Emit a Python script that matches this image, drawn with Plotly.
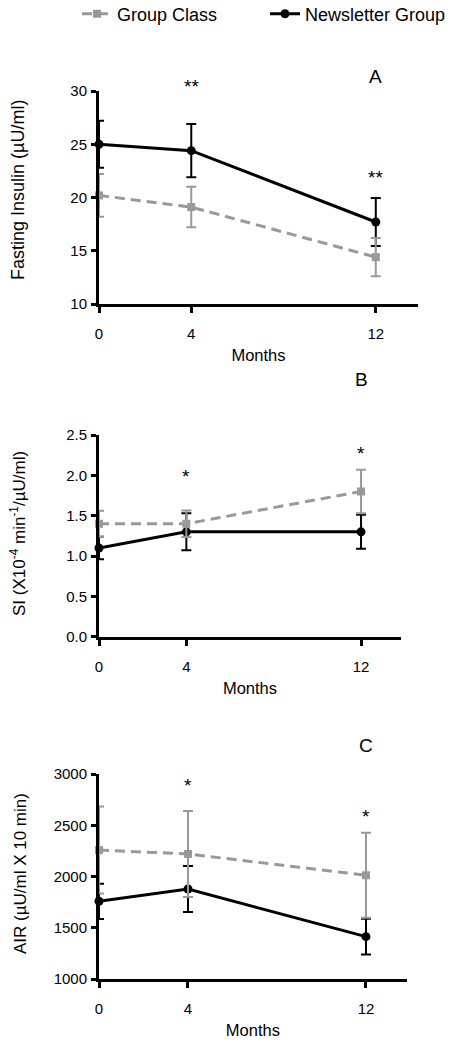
import plotly.graph_objects as go

W, H = 455, 1043
months = [0, 4, 12]

# Panel A: Fasting insulin
a_group = [20.2, 19.1, 14.4]
a_group_err = [2.0, 1.9, 1.8]
a_news = [25.0, 24.4, 17.7]
a_news_err = [2.2, 2.5, 2.25]

# Panel B: SI
b_group = [1.40, 1.40, 1.80]
b_group_err = [0.16, 0.165, 0.27]
b_news = [1.10, 1.30, 1.30]
b_news_err = [0.14, 0.23, 0.21]

# Panel C: AIR
c_group = [2258, 2220, 2012]
c_group_err = [425, 420, 415]
c_news = [1758, 1878, 1413]
c_news_err = [172, 225, 175]

# significance markers: (x, y in axis-domain fraction, text)
a_stars = [(4, 1.028, "**"), (12, 0.598, "**")]
b_stars = [(4, 0.80, "*"), (12, 0.912, "*")]
c_stars = [(4, 0.95, "*"), (12, 0.80, "*")]
panel_labels = [("A", 1.066), ("B", 1.273), ("C", 1.137)]

GRAY = "#999999"
FONT = "Arial, Liberation Sans, sans-serif"

def px_x(p):
    return p / W

def px_y(p):
    return 1 - p / H

fig = go.Figure()

panels = [
    ("x", "y", a_group, a_group_err, a_news, a_news_err, True),
    ("x2", "y2", b_group, b_group_err, b_news, b_news_err, False),
    ("x3", "y3", c_group, c_group_err, c_news, c_news_err, False),
]

for xa, ya, g, ge, n, ne, show in panels:
    fig.add_trace(go.Scatter(
        x=months, y=n, xaxis=xa, yaxis=ya, mode="lines+markers",
        name="Newsletter Group", showlegend=show, legendrank=2,
        line=dict(color="black", width=3),
        marker=dict(symbol="circle", size=9, color="black"),
        error_y=dict(type="data", array=ne, visible=True, color="black",
                     thickness=2, width=5),
        cliponaxis=False,
    ))
    fig.add_trace(go.Scatter(
        x=months, y=g, xaxis=xa, yaxis=ya, mode="lines+markers",
        name="Group Class", showlegend=show, legendrank=1,
        line=dict(color=GRAY, width=3, dash="10px,6px"),
        marker=dict(symbol="square", size=8, color=GRAY),
        error_y=dict(type="data", array=ge, visible=True, color=GRAY,
                     thickness=2, width=5),
        cliponaxis=False,
    ))

xcommon = dict(range=[0, 13.83], tickvals=months, ticktext=[str(m) for m in months],
               showline=True, linecolor="black", linewidth=3, ticks="outside",
               ticklen=6, tickwidth=3, tickcolor="black", showgrid=False,
               zeroline=False, tickfont=dict(family=FONT, size=15, color="black"),
               ticklabelstandoff=8, fixedrange=True)
ycommon = dict(showline=True, linecolor="black", linewidth=3, ticks="outside",
               ticklen=5, tickwidth=3, tickcolor="black", showgrid=False,
               zeroline=False, tickfont=dict(family=FONT, size=15, color="black"),
               ticklabelstandoff=1, fixedrange=True)
xtitle = dict(text="Months", font=dict(family=FONT, size=16.5, color="black"), standoff=9)

fig.update_layout(
    width=W, height=H, margin=dict(l=0, r=0, t=0, b=0, autoexpand=False),
    plot_bgcolor="white", paper_bgcolor="white",
    font=dict(family=FONT, color="black"),
    xaxis=dict(xcommon, domain=[px_x(99), px_x(418)], anchor="y", title=xtitle),
    yaxis=dict(ycommon, domain=[px_y(304), px_y(91)], anchor="x",
               range=[10, 30], tickvals=[10, 15, 20, 25, 30]),
    xaxis2=dict(xcommon, domain=[px_x(99), px_x(401)], anchor="y2", title=xtitle),
    yaxis2=dict(ycommon, domain=[px_y(636.7), px_y(435)], anchor="x2",
                range=[0, 2.5], tickvals=[0, 0.5, 1.0, 1.5, 2.0, 2.5],
                ticktext=["0.0", "0.5", "1.0", "1.5", "2.0", "2.5"]),
    xaxis3=dict(xcommon, domain=[px_x(99), px_x(406.7)], anchor="y3", title=xtitle),
    yaxis3=dict(ycommon, domain=[px_y(979), px_y(774)], anchor="x3",
                range=[1000, 3000], tickvals=[1000, 1500, 2000, 2500, 3000]),
    legend=dict(orientation="h", x=px_x(77), y=px_y(14), xanchor="left", yanchor="middle",
                font=dict(family=FONT, size=18, color="black"),
                entrywidth=143, entrywidthmode="pixels", bgcolor="rgba(0,0,0,0)"),
    showlegend=True,
)

anns = []
for (xr, yr, stars) in [("x", "y domain", a_stars), ("x2", "y2 domain", b_stars),
                        ("x3", "y3 domain", c_stars)]:
    for sx, sy, t in stars:
        anns.append(dict(x=sx, y=sy, xref=xr, yref=yr, text=t, showarrow=False,
                         xanchor="center", yanchor="middle",
                         font=dict(family=FONT, size=19, color="black"), yshift=-1))
for (xr, yr), (lbl, yv) in zip([("x", "y domain"), ("x2", "y2 domain"), ("x3", "y3 domain")],
                               panel_labels):
    anns.append(dict(x=12, y=yv, xref=xr, yref=yr, text=lbl, showarrow=False,
                     xanchor="center", yanchor="middle",
                     font=dict(family=FONT, size=19, color="black")))

ytitles = [
    ("Fasting Insulin (µU/ml)", 18, 190, 18),
    ("SI (X10<sup>-4</sup> min<sup>-1</sup>/µU/ml)", 18, 534, 17),
    ("AIR (µU/ml X 10 min)", 20, 874, 17),
]
for txt, xp, yp, fs in ytitles:
    anns.append(dict(x=px_x(xp), y=px_y(yp), xref="paper", yref="paper", text=txt,
                     textangle=-90, showarrow=False, xanchor="center", yanchor="middle",
                     font=dict(family=FONT, size=fs, color="black")))

fig.update_layout(annotations=anns)
fig.write_html("out.html", config={"displayModeBar": False},
               post_script="document.body.style.margin='0';document.body.style.overflow='hidden';")
